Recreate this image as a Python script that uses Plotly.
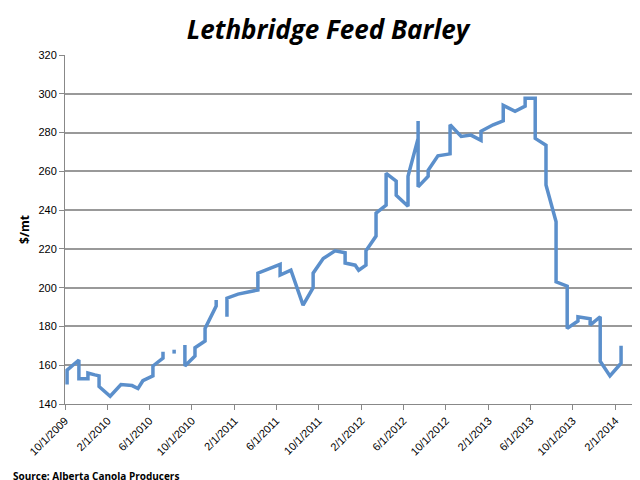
import plotly.graph_objects as go

dates = ["2009-10-07","2009-10-07","2009-11-10","2009-11-10","2009-12-06","2009-12-06","2009-12-26",
 "2010-01-07","2010-01-07","2010-02-08","2010-03-11","2010-04-12","2010-04-29","2010-05-13",
 "2010-06-11","2010-06-11","2010-07-10","2010-07-10",None,
 "2010-08-11","2010-08-11",None,
 "2010-09-11","2010-09-11","2010-10-10","2010-10-10","2010-11-08","2010-11-08","2010-12-10","2010-12-10",None,
 "2011-01-10","2011-01-10","2011-02-11","2011-03-17","2011-04-09","2011-04-09","2011-05-14",
 "2011-06-12","2011-06-12","2011-07-13","2011-08-17","2011-09-15","2011-09-15","2011-10-14",
 "2011-11-17","2011-12-16","2011-12-16","2012-01-14","2012-01-24","2012-02-14","2012-02-14",
 "2012-03-14","2012-03-14","2012-04-12","2012-04-12","2012-05-11","2012-05-11","2012-06-14","2012-06-14",
 "2012-07-13","2012-07-13","2012-07-13","2012-08-11","2012-08-11","2012-09-08","2012-10-13","2012-10-13",
 "2012-11-14","2012-12-12","2013-01-10","2013-01-10","2013-02-14","2013-03-15","2013-03-15","2013-04-18",
 "2013-05-17","2013-05-17","2013-06-15","2013-06-15","2013-07-16","2013-07-16","2013-08-14","2013-08-14",
 "2013-09-15","2013-09-15","2013-10-16","2013-10-16","2013-11-20","2013-11-20","2013-12-19","2013-12-19",
 "2014-01-16","2014-02-17","2014-02-17"]
prices = [150,157.5,162.7,153,153,156,155,
 154.5,149,144,150,149.5,148,152,
 154.5,159.6,163.7,167,None,
 166,168,None,
 170.4,159.6,164.7,169,172.5,179,190.5,193.6,None,
 185,194.6,196.7,197.7,198.8,207.5,210,
 212,206.5,209,191,200,207.5,215,
 219,218,212.7,211.6,209,211.6,219,
 226.6,238.5,242.6,259,255,247.7,242,257.5,
 277,286,252,257.5,260.6,268,269,284,
 278,278.7,276,280.7,284,286,294,291,
 293.6,297.7,297.7,277,273.5,253,234,203,
 200.8,179,182.8,185,184,180.7,185,162,
 154.5,161,170]

tick_vals = ["2009-10-01","2010-02-01","2010-06-01","2010-10-01","2011-02-01","2011-06-01","2011-10-01",
 "2012-02-01","2012-06-01","2012-10-01","2013-02-01","2013-06-01","2013-10-01","2014-02-01"]
tick_text = ["10/1/2009","2/1/2010","6/1/2010","10/1/2010","2/1/2011","6/1/2011","10/1/2011",
 "2/1/2012","6/1/2012","10/1/2012","2/1/2013","6/1/2013","10/1/2013","2/1/2014"]

fig = go.Figure(go.Scatter(x=dates, y=prices, mode="lines", connectgaps=False,
    line=dict(color="#5B8FCB", width=3.5)))

fig.update_layout(
    width=640, height=480, plot_bgcolor="white", paper_bgcolor="white",
    margin=dict(l=57, r=12, t=47, b=84), showlegend=False,
    font=dict(family="Open Sans, Liberation Sans, sans-serif", color="black"),
    title=dict(text="<b><i>Lethbridge Feed Barley</i></b>", x=0.5, xanchor="center",
               y=0.955, yanchor="middle", font=dict(size=26)),
    annotations=[dict(text="<b>Source: Alberta Canola Producers</b>", xref="paper", yref="paper",
                      x=-0.095, y=-0.205, xanchor="left", yanchor="middle", showarrow=False,
                      font=dict(size=10))],
)
fig.update_xaxes(type="date", range=["2009-10-01","2014-04-01"], tickvals=tick_vals, ticktext=tick_text,
                 tickangle=-45, showgrid=False, showline=True, linecolor="#888", ticks="outside",
                 ticklen=5, tickcolor="#888", tickfont=dict(size=11, family="Liberation Sans"),
                 automargin=False)
fig.update_yaxes(range=[140, 320], dtick=20, showgrid=True, gridcolor="#999", gridwidth=1.5,
                 showline=True, linecolor="#888", ticks="outside", ticklen=5, tickcolor="#888",
                 tickfont=dict(size=11, family="Liberation Sans"), automargin=False,
                 title=dict(text="<b>$/mt</b>", font=dict(size=12), standoff=6))
fig.write_html("out.html")
